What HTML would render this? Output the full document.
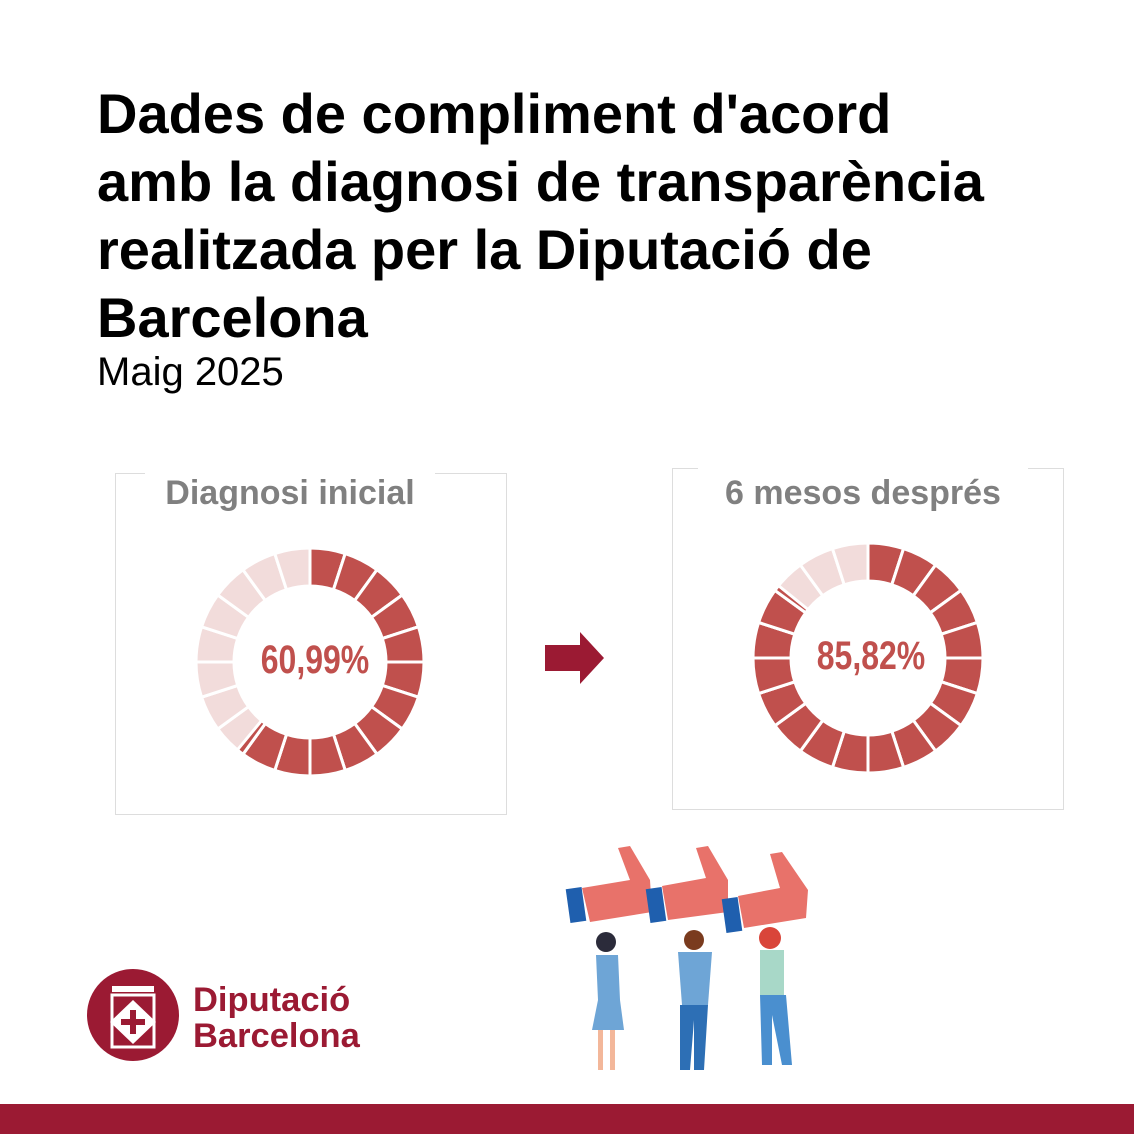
<!DOCTYPE html>
<html><head><meta charset="utf-8"><style>
body{margin:0;width:1134px;height:1134px;background:#fff;position:relative;overflow:hidden;font-family:"Liberation Sans",sans-serif}
.t{position:absolute;left:97px;top:80px;font-size:56px;font-weight:bold;line-height:68px;color:#000;width:1030px;white-space:nowrap}
.s{position:absolute;left:97px;top:350px;font-size:40px;color:#000}
.box{position:absolute;border:1px solid #ddd}
.cap{position:absolute;background:#fff;color:#808080;font-weight:bold;text-align:center;font-family:"Liberation Sans",sans-serif}
.pct{position:absolute;color:#c0504d;font-weight:bold;font-size:40px;transform:scaleX(.8);font-family:"Liberation Sans Narrow","Liberation Sans",sans-serif;width:200px;text-align:center}
.bar{position:absolute;left:0;top:1104px;width:1134px;height:30px;background:#9b1a33}
.logo{position:absolute;left:193px;top:982px;color:#9b1a33;font-weight:bold;font-size:34.5px;line-height:36px}
</style></head><body>
<div class="t">Dades de compliment d'acord<br>amb la diagnosi de transparència<br>realitzada per la Diputació de<br>Barcelona</div>
<div class="s">Maig 2025</div>
<div class="box" style="left:115px;top:473px;width:390px;height:340px"></div>
<div class="cap" style="left:145px;top:468px;width:290px;height:50px;line-height:50px;font-size:34px">Diagnosi inicial</div>
<div class="box" style="left:672px;top:468px;width:390px;height:340px"></div>
<div class="cap" style="left:698px;top:466px;width:330px;height:55px;line-height:55px;font-size:34px">6 mesos després</div>
<svg id="sv" width="1134" height="1134" style="position:absolute;left:0;top:0">
<polygon points="545,645 580,645 580,632 604,658 580,684 580,671 545,671" fill="#9b1a33"/>
<g>
<rect x="568" y="888" width="16" height="34" fill="#1f5fae" transform="rotate(-8 576 905)"/>
<path d="M582 888 L630 880 L618 848 L630 846 L650 880 L652 912 L590 922 Z" fill="#e8726a"/>
<rect x="648" y="888" width="16" height="34" fill="#1f5fae" transform="rotate(-8 656 905)"/>
<path d="M662 886 L706 878 L696 848 L708 846 L728 880 L728 912 L668 920 Z" fill="#e8726a"/>
<rect x="724" y="898" width="16" height="34" fill="#1f5fae" transform="rotate(-8 732 915)"/>
<path d="M738 896 L780 888 L770 854 L782 852 L808 890 L806 918 L744 928 Z" fill="#e8726a"/>
<circle cx="606" cy="942" r="10" fill="#2b2b3a"/><path d="M596 955 L618 955 L620 1000 L624 1030 L592 1030 L598 1000 Z" fill="#6ea5d6"/>
<rect x="598" y="1030" width="5" height="40" fill="#f3b79a"/><rect x="610" y="1030" width="5" height="40" fill="#f3b79a"/>
<circle cx="694" cy="940" r="10" fill="#7a3b1e"/><path d="M678 952 L712 952 L708 1005 L682 1005 Z" fill="#6ea5d6"/>
<path d="M680 1005 L708 1005 L704 1070 L694 1070 L694 1020 L690 1070 L680 1070 Z" fill="#2d6fb5"/>
<circle cx="770" cy="938" r="11" fill="#d9453a"/><path d="M760 950 L784 950 L784 995 L760 995 Z" fill="#a8d8c8"/>
<path d="M760 995 L786 995 L792 1065 L782 1065 L772 1015 L772 1065 L762 1065 Z" fill="#4a8fcf"/>
</g>
<circle cx="133" cy="1015" r="46" fill="#9b1a33"/>
<rect x="112" y="995" width="42" height="52" fill="none" stroke="#fff" stroke-width="3"/>
<polygon points="133,1000 156,1022 133,1044 110,1022" fill="#fff"/>
<rect x="130" y="1010" width="6" height="24" fill="#9b1a33"/><rect x="121" y="1019" width="24" height="6" fill="#9b1a33"/>
<rect x="112" y="986" width="42" height="6" fill="#fff"/>
</svg>
<div class="pct" style="left:215px;top:638px">60,99%</div>
<div class="pct" style="left:771px;top:634px">85,82%</div>
<div class="logo">Diputació<br>Barcelona</div>
<div class="bar"></div>
<script>
var sv=document.getElementById('sv'),NS='http://www.w3.org/2000/svg';
function donut(cx,cy,ro,ri,frac){
 for(var i=0;i<20;i++){
  var a0=i*18,a1=(i+1)*18;
  var seg=function(s,e,col){
   var r=function(a){return (a-90)*Math.PI/180};
   var p='M'+(cx+ro*Math.cos(r(s)))+' '+(cy+ro*Math.sin(r(s)))+' A'+ro+' '+ro+' 0 0 1 '+(cx+ro*Math.cos(r(e)))+' '+(cy+ro*Math.sin(r(e)))+' L'+(cx+ri*Math.cos(r(e)))+' '+(cy+ri*Math.sin(r(e)))+' A'+ri+' '+ri+' 0 0 0 '+(cx+ri*Math.cos(r(s)))+' '+(cy+ri*Math.sin(r(s)))+'Z';
   var el=document.createElementNS(NS,'path');el.setAttribute('d',p);el.setAttribute('fill',col);el.setAttribute('stroke','#fff');el.setAttribute('stroke-width','3');sv.appendChild(el);
  };
  seg(a0,a1,'#f2dcdb');
  var cut=frac*360;
  if(a1<=cut)seg(a0,a1,'#c0504d');else if(a0<cut)seg(a0,cut,'#c0504d');
 }
}
donut(310,662,114,76,0.6099);
donut(868,658,115,77,0.8582);
</script>
</body></html>
